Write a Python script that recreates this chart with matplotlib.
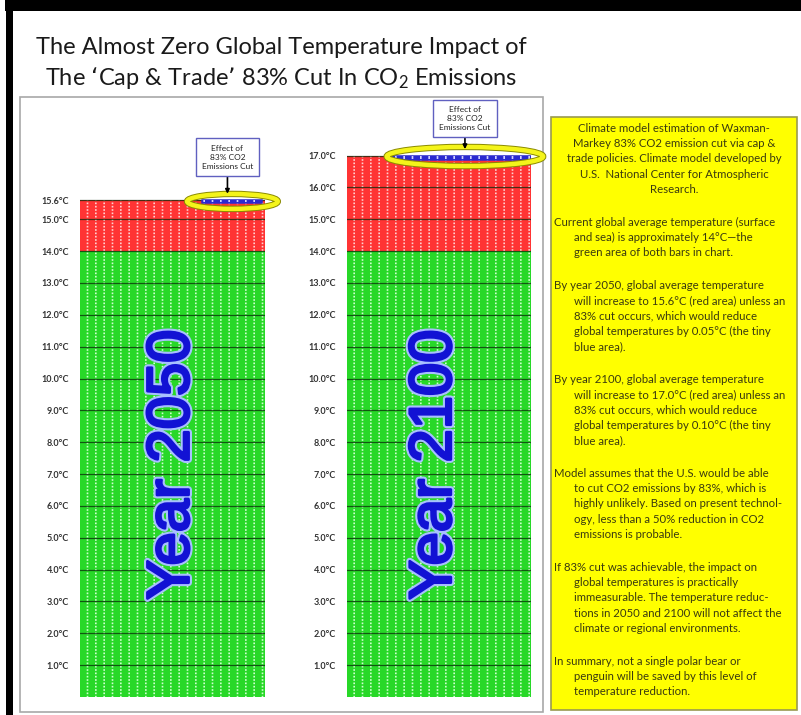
import matplotlib
matplotlib.use('Agg')
import matplotlib.pyplot as plt
from matplotlib.patches import Rectangle, Ellipse
import matplotlib.patheffects as pe
from matplotlib import font_manager as fm

# ---------------- data ----------------
years = ['2050', '2100']
current_temp = [14.0, 14.0]          # green area
future_temp = [15.6, 17.0]           # top of red area
cut_effect = [0.05, 0.10]            # blue area (reduction from 83% cut)
ticks_2050 = [1.0, 2.0, 3.0, 4.0, 5.0, 6.0, 7.0, 8.0, 9.0, 10.0, 11.0, 12.0, 13.0, 14.0, 15.0, 15.6]
ticks_2100 = [1.0, 2.0, 3.0, 4.0, 5.0, 6.0, 7.0, 8.0, 9.0, 10.0, 11.0, 12.0, 13.0, 14.0, 15.0, 16.0, 17.0]
annotation_text = 'Effect of\n83% CO2\nEmissions Cut'
title_lines = ["The Almost Zero Global Temperature Impact of",
               "The \u2018Cap & Trade\u2019 83% Cut In CO$_2$ Emissions"]
intro_lines = ["Climate model estimation of Waxman-",
               "Markey 83% CO2 emission cut via cap &",
               "trade policies. Climate model developed by",
               "U.S.  National Center for Atmospheric",
               "Research."]
note_paragraphs = [
    ["Current global average temperature (surface",
     "and sea) is approximately 14\u00b0C\u2014the",
     "green area of both bars in chart."],
    ["By year 2050, global average temperature",
     "will increase to 15.6\u00b0C (red area) unless an",
     "83% cut occurs, which would reduce",
     "global temperatures by 0.05\u00b0C (the tiny",
     "blue area)."],
    ["By year 2100, global average temperature",
     "will increase to 17.0\u00b0C (red area) unless an",
     "83% cut occurs, which would reduce",
     "global temperatures by 0.10\u00b0C (the tiny",
     "blue area)."],
    ["Model assumes that the U.S. would be able",
     "to cut CO2 emissions by 83%, which is",
     "highly unlikely. Based on present technol-",
     "ogy, less than a 50% reduction in CO2",
     "emissions is probable."],
    ["If 83% cut was achievable, the impact on",
     "global temperatures is practically",
     "immeasurable. The temperature reduc-",
     "tions in 2050 and 2100 will not affect the",
     "climate or regional environments."],
    ["In summary, not a single polar bear or",
     "penguin will be saved by this level of",
     "temperature reduction."],
]

# ---------------- style ----------------
names = {f.name for f in fm.fontManager.ttflist}
FONT = 'Liberation Sans Narrow' if 'Liberation Sans Narrow' in names else 'Lato'
plt.rcParams['font.family'] = [FONT, 'DejaVu Sans']
plt.rcParams['mathtext.default'] = 'regular'
plt.rcParams['hatch.linewidth'] = 1.2

GREEN = '#28d828'
GREEN_L = '#d0ffd0'
RED = '#ff3434'
RED_L = '#ffd0d0'
BLUE = '#2a2ad0'
BLUE_L = '#d0d0ff'

W, H = 801, 715
fig = plt.figure(figsize=(W / 100, H / 100), dpi=100)
fig.patch.set_facecolor('white')


def fx(px):
    return px / W


def fy(py):
    return 1 - py / H


# black frame (top and left)
fig.patches.append(Rectangle((fx(5), fy(11)), 1, 1, transform=fig.transFigure,
                             facecolor='black', edgecolor='none', zorder=-2))
fig.patches.append(Rectangle((fx(6), 0), fx(7), 1, transform=fig.transFigure,
                             facecolor='black', edgecolor='none', zorder=-2))
# chart panel border
fig.patches.append(Rectangle((fx(20), fy(712)), fx(523), fy(97) - fy(712), transform=fig.transFigure,
                             facecolor='white', edgecolor='#a8a8a8', lw=1.2, zorder=-1))

# title
fig.text(fx(281), fy(48), title_lines[0], ha='center', va='center', fontsize=17, color='#1a1a1a')
fig.text(fx(281), fy(78), title_lines[1], ha='center', va='center', fontsize=17, color='#1a1a1a')

YMAX = 18.0
bottom_px, top_px = 697, 697 - 18 * 31.85
ax_specs = [(80, 185), (347, 184)]
tick_sets = [ticks_2050, ticks_2100]
blue_x = [(0.16, 0.48), (-0.25, 0.495)]
ellipse_specs = [((0.324, 15.56), 0.49, 0.47), ((0.141, 16.97), 0.85, 0.60)]
annot_specs = [((0.297, 16.95), (0.297, 15.80)), ((0.141, 18.16), (0.141, 17.20))]
year_pos = [(0.003, 7.3), (-0.02, 7.3)]

for i, (left_px, width_px) in enumerate(ax_specs):
    ax = fig.add_axes([fx(left_px), fy(bottom_px), width_px / W, (bottom_px - top_px) / H])
    ax.set_xlim(-0.5, 0.5)
    ax.set_ylim(0, YMAX)
    ax.patch.set_alpha(0)
    for s in ax.spines.values():
        s.set_visible(False)

    segs = [(0, current_temp[i], GREEN, GREEN_L),
            (current_temp[i], future_temp[i] - current_temp[i], RED, RED_L)]
    for bottom, height, col, light in segs:
        ax.bar(0, height, bottom=bottom, width=1.0, color=col, lw=0, zorder=1)
        ax.bar(0, height, bottom=bottom, width=1.0, facecolor='none', edgecolor=light,
               lw=0, hatch='||', zorder=1.1)
        ax.bar(0, height, bottom=bottom, width=1.0, facecolor='none', edgecolor=col,
               lw=0, hatch='-----', zorder=1.2)

    # blue area: effect of the cut
    x0, x1 = blue_x[i]
    ax.bar((x0 + x1) / 2, cut_effect[i], bottom=future_temp[i] - cut_effect[i], width=x1 - x0,
           color=BLUE, edgecolor=BLUE, lw=1.8, zorder=3)
    ax.bar((x0 + x1) / 2, cut_effect[i], bottom=future_temp[i] - cut_effect[i], width=x1 - x0,
           facecolor='none', edgecolor=BLUE_L, lw=0, hatch='||', zorder=3.1)

    (cx, cy), ew, eh = ellipse_specs[i]
    ax.add_patch(Ellipse((cx, cy), ew, eh, fill=False, edgecolor='#8a8a00', lw=4.6,
                         clip_on=False, zorder=4))
    ax.add_patch(Ellipse((cx, cy), ew, eh, fill=False, edgecolor='#f4f41a', lw=3.2,
                         clip_on=False, zorder=4.1))

    (bx, by), (tx, ty) = annot_specs[i]
    ax.annotate(annotation_text, xy=(tx, ty), xytext=(bx, by), ha='center', va='center',
                fontsize=6, color='#222222', annotation_clip=False, zorder=6, linespacing=1.35,
                bbox=dict(boxstyle='square,pad=0.75', fc='white', ec='#6060c0', lw=1),
                arrowprops=dict(arrowstyle='-|>', color='black', lw=1.2, mutation_scale=6,
                                shrinkA=0, shrinkB=0))

    ax.set_xticks([])
    ax.set_yticks(tick_sets[i])
    ax.set_yticklabels(['%.1f\u00b0C' % t for t in tick_sets[i]])
    ax.tick_params(axis='y', length=0, pad=8, labelsize=6.5, labelcolor='#333333')
    for lab in ax.get_yticklabels():
        lab.set_fontweight('bold')
    ax.grid(axis='y', color='#0a2a0a', lw=0.9, alpha=0.75, zorder=2)
    ax.set_axisbelow(False)

    yx, yy = year_pos[i]
    ax.text(yx, yy, 'Year ' + years[i], rotation=90, ha='center', va='center', fontsize=43,
            family=['Liberation Sans', 'DejaVu Sans'], color='#1212d4', zorder=5,
            path_effects=[pe.Stroke(linewidth=5, foreground='#a8c0ff'),
                          pe.Stroke(linewidth=2, foreground='#1212d4'),
                          pe.Normal()])

# yellow notes box
fig.patches.append(Rectangle((fx(551), fy(710)), fx(246), fy(117) - fy(710), transform=fig.transFigure,
                             facecolor='#ffff00', edgecolor='#9a9a50', lw=1.2, zorder=-1))
LINE = 15.4
GAP = 32.4
FS = 8.2
y = 128
for ln in intro_lines:
    fig.text(fx(674), fy(y), ln, ha='center', va='center', fontsize=FS, color='#3a3a10')
    y += LINE
y += GAP - LINE
for para in note_paragraphs:
    for j, ln in enumerate(para):
        xpos = 554 if j == 0 else 574
        fig.text(fx(xpos), fy(y), ln, ha='left', va='center', fontsize=FS, color='#3a3a10')
        y += LINE
    y += GAP - LINE

fig.savefig('out.png', dpi=100)
